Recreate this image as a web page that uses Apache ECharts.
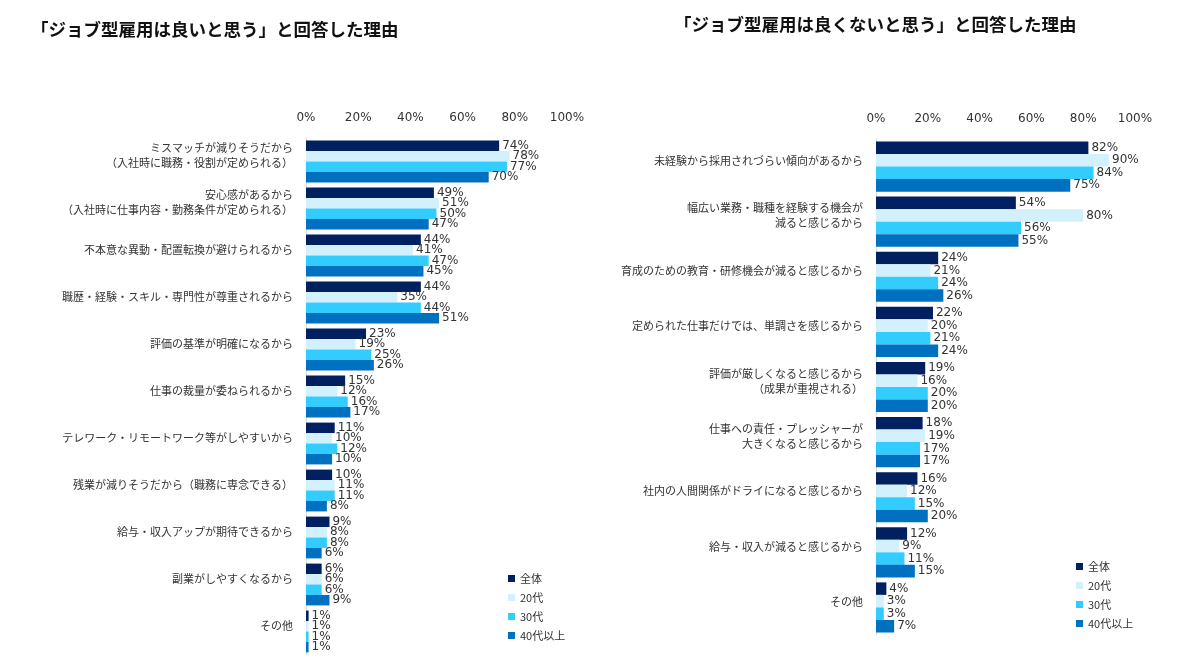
<!DOCTYPE html>
<html>
<head>
<meta charset="utf-8">
<script src="https://cdn.jsdelivr.net/npm/echarts@6/dist/echarts.min.js"></script>
<style>html,body{margin:0;padding:0;background:#fff;}#c{width:1200px;height:669px;}</style>
</head>
<body>
<div id="c"></div>
<script>
var seriesNames = ['全体', '20代', '30代', '40代以上'];
var colors = ['#002060', '#D3F1FD', '#33CCFF', '#0070C0'];
var xTicks = ['0%', '20%', '40%', '60%', '80%', '100%'];

var leftTitle = '「ジョブ型雇用は良いと思う」と回答した理由';
var leftCategories = [
  'ミスマッチが減りそうだから\n（入社時に職務・役割が定められる）',
  '安心感があるから\n（入社時に仕事内容・勤務条件が定められる）',
  '不本意な異動・配置転換が避けられるから',
  '職歴・経験・スキル・専門性が尊重されるから',
  '評価の基準が明確になるから',
  '仕事の裁量が委ねられるから',
  'テレワーク・リモートワーク等がしやすいから',
  '残業が減りそうだから（職務に専念できる）',
  '給与・収入アップが期待できるから',
  '副業がしやすくなるから',
  'その他'
];
var leftAll   = [74, 49, 44, 44, 23, 15, 11, 10, 9, 6, 1];
var left20    = [78, 51, 41, 35, 19, 12, 10, 11, 8, 6, 1];
var left30    = [77, 50, 47, 44, 25, 16, 12, 11, 8, 6, 1];
var left40    = [70, 47, 45, 51, 26, 17, 10, 8, 6, 9, 1];

var rightTitle = '「ジョブ型雇用は良くないと思う」と回答した理由';
var rightCategories = [
  '未経験から採用されづらい傾向があるから',
  '幅広い業務・職種を経験する機会が\n減ると感じるから',
  '育成のための教育・研修機会が減ると感じるから',
  '定められた仕事だけでは、単調さを感じるから',
  '評価が厳しくなると感じるから\n（成果が重視される）',
  '仕事への責任・プレッシャーが\n大きくなると感じるから',
  '社内の人間関係がドライになると感じるから',
  '給与・収入が減ると感じるから',
  'その他'
];
var rightAll  = [82, 54, 24, 22, 19, 18, 16, 12, 4];
var right20   = [90, 80, 21, 20, 16, 19, 12, 9, 3];
var right30   = [84, 56, 24, 21, 20, 17, 15, 11, 3];
var right40   = [75, 55, 26, 24, 20, 17, 20, 15, 7];

var jp = '"Noto Sans CJK JP", "Noto Sans", sans-serif';
var num = '"DejaVu Sans", Verdana, "Noto Sans CJK JP", sans-serif';

function xAxisFor(idx) {
  return {
    type: 'value', gridIndex: idx, position: 'top', min: 0, max: 100, interval: 20,
    axisLine: {show: false}, axisTick: {show: false}, splitLine: {show: false},
    axisLabel: {
      margin: 14, color: '#333', fontSize: 12, fontFamily: num,
      formatter: function (v) { return xTicks[Math.round(v / 20)]; }
    }
  };
}
function yAxisFor(idx, cats) {
  return {
    type: 'category', gridIndex: idx, data: cats, inverse: true,
    axisLine: {show: true, lineStyle: {color: '#D9D9D9', width: 1}},
    axisTick: {show: false},
    axisLabel: {
      margin: 13, align: 'right',
      formatter: function (v) {
        return v.split('\n').map(function (s) { return '{a|' + s + '}'; }).join('\n') + '\n{s| }';
      },
      rich: {
        a: {color: '#333', fontSize: 11, lineHeight: 15, fontFamily: jp, align: 'right'},
        s: {fontSize: 2, lineHeight: 12}
      }
    }
  };
}
function makeSeries(idx, arrays, gap) {
  return arrays.map(function (arr, i) {
    return {
      name: seriesNames[i], type: 'bar', xAxisIndex: idx, yAxisIndex: idx,
      data: arr, barGap: '0%', barCategoryGap: gap,
      itemStyle: {color: colors[i]},
      label: {
        show: true, position: 'right', distance: 3, color: '#333', fontSize: 12, fontFamily: num,
        formatter: function (p) { return p.value + '%'; }
      }
    };
  });
}

var chart = echarts.init(document.getElementById('c'), null, {renderer: 'canvas'});
chart.setOption({
  animation: false,
  backgroundColor: '#fff',
  color: colors,
  title: [
    {text: leftTitle, left: 26, top: 16, textStyle: {fontSize: 17.5, fontWeight: 'bold', color: '#111', fontFamily: jp}},
    {text: rightTitle, left: 669, top: 11, textStyle: {fontSize: 17.5, fontWeight: 'bold', color: '#111', fontFamily: jp}}
  ],
  legend: [
    {data: seriesNames, orient: 'vertical', left: 503, top: 568, itemWidth: 7, itemHeight: 7, itemGap: 8,
     icon: 'rect', textStyle: {fontSize: 11, color: '#333', fontFamily: jp}, selectedMode: false},
    {data: seriesNames, orient: 'vertical', left: 1071, top: 556, itemWidth: 7, itemHeight: 7, itemGap: 8,
     icon: 'rect', textStyle: {fontSize: 11, color: '#333', fontFamily: jp}, selectedMode: false}
  ],
  grid: [
    {left: 306, right: 633, top: 138, bottom: 14},
    {left: 876, right: 65, top: 139, bottom: 34}
  ],
  xAxis: [xAxisFor(0), xAxisFor(1)],
  yAxis: [yAxisFor(0, leftCategories), yAxisFor(1, rightCategories)],
  series: makeSeries(0, [leftAll, left20, left30, left40], '11%')
    .concat(makeSeries(1, [rightAll, right20, right30, right40], '9%'))
});
</script>
</body>
</html>
